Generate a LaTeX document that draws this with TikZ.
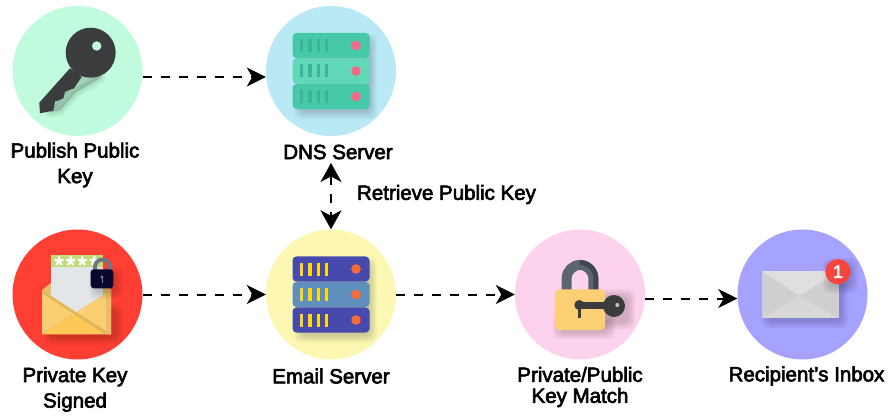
\documentclass[tikz,border=0pt]{standalone}
\usepackage{fontspec}
\setmainfont{Liberation Sans}[FakeBold=3]
\usetikzlibrary{arrows.meta}
\definecolor{keybg}{HTML}{BFFBDC}
\definecolor{dnsbg}{HTML}{B9E9F5}
\definecolor{signbg}{HTML}{FF3F33}
\definecolor{mailbg}{HTML}{FCF8B4}
\definecolor{matchbg}{HTML}{FDD2EC}
\definecolor{inboxbg}{HTML}{A6A2FF}
\definecolor{keydark}{HTML}{3B3C3D}
\definecolor{flapgold}{HTML}{F9CF74}
\definecolor{flapback}{HTML}{E8BE68}
\definecolor{flapfold}{HTML}{E0B65A}
\definecolor{flapfront}{HTML}{FDC857}
\definecolor{paper}{HTML}{E2E6E9}
\definecolor{strip}{HTML}{BFDC7B}
\definecolor{shackle}{HTML}{6F7780}
\definecolor{lockdark}{HTML}{08082E}
\definecolor{padshackle}{HTML}{5B6570}
\definecolor{padshade}{HTML}{3F464E}
\definecolor{padbody}{HTML}{FBCF73}
\definecolor{dnsrow}{HTML}{45C9A7}
\definecolor{dnsmid}{HTML}{61D9B8}
\definecolor{dnsbar}{HTML}{3BB596}
\definecolor{dnslamp}{HTML}{F76A85}
\definecolor{mailrow}{HTML}{4749AD}
\definecolor{mailmid}{HTML}{5E8FBD}
\definecolor{mailbar}{HTML}{FFD80E}
\definecolor{maillamp}{HTML}{F96A35}
\definecolor{envside}{HTML}{CFCFCF}
\definecolor{envflap}{HTML}{DFDFDF}
\definecolor{envlow}{HTML}{D8D8D8}
\definecolor{badgered}{HTML}{F6443E}
% stacked see-through boxes, for a blurred shadow
\newcommand{\softshade}[4]{
  \foreach \g in {0,1.5,...,15}
    \fill[black,opacity=0.014,rounded corners=7pt] (#1-\g/2,#2-\g/2) rectangle (#3+\g/2,#4+\g/2);
}
\tikzset{
  bubble/.style={circle,minimum size=130pt,inner sep=0pt},
  caption/.style={align=center,font=\fontsize{20.5}{25.5}\selectfont,inner sep=0pt,text=black},
  link/.style={line width=2pt,dash pattern=on 9pt off 9pt,-{Stealth[length=19pt,width=19pt,inset=5.5pt]}},
  linkboth/.style={line width=2pt,dash pattern=on 9pt off 9pt,{Stealth[length=19pt,width=21pt,inset=5.5pt]}-{Stealth[length=19pt,width=21pt,inset=5.5pt]}},
  pics/serverstack/.style n args={4}{code={
    % shadow below the rows
    \softshade{-30}{-30}{39}{41}
    % the three rows with bars and lamp
    \foreach \rowy/\rowcol in {-25.5/#1,0/#2,25.5/#1} {
      \fill[\rowcol,rounded corners=4pt] (-38.5,\rowy-12.6) rectangle (38.5,\rowy+12.6);
      \foreach \barx in {-31,-22.7,-14.3,-6}
        \fill[#3] (\barx,\rowy-6.5) rectangle (\barx+3.3,\rowy+6.5);
      \fill[#4] (25,\rowy) circle[radius=4.8];
    }
  }},
}
\begin{document}
\begin{tikzpicture}[x=1pt,y=-1pt]
  \useasboundingbox (0,0) rectangle (892,417);

  % Circles
  \node[bubble,fill=keybg] (publish) at (77.5,71) {};
  \node[bubble,fill=dnsbg] (dns) at (331,71) {};
  \node[bubble,fill=signbg] (signed) at (77.5,294.5) {};
  \node[bubble,fill=mailbg] (email) at (331,294.5) {};
  \node[bubble,fill=matchbg] (match) at (580,294.5) {};
  \node[bubble,fill=inboxbg] (inbox) at (802.5,294.5) {};

  % Key
  \foreach \g in {0,1.5,...,12}
    \draw[black,opacity=0.014,line width=\g pt,fill=black,line join=round]
      (50,112) -- (76,76) -- (100,66) -- (100,78) -- (76,92) -- (60,110) -- cycle;
  \fill[keydark] (70,68.3) -- (81.7,76.7) -- (74,88.3) -- (65,91.7) -- (63.3,98.3) -- (55,101.7)
    -- (53.3,110.7) -- (40,113.3) -- (39.3,102.7) -- cycle;
  \fill[keydark] (90.7,52.7) circle[radius=25];
  \fill[keybg] (96.7,46) circle[radius=4.7];

  % DNS and mail servers
  \pic at (331,71) {serverstack={dnsrow}{dnsmid}{dnsbar}{dnslamp}};
  \pic at (331,294.5) {serverstack={mailrow}{mailmid}{mailbar}{maillamp}};

  % Signed envelope
  \softshade{50}{310}{116}{338}
  \fill[flapback] (42,290) -- (51,283) -- (103,283) -- (111,290) -- (111,300) -- (42,300) -- cycle;
  \fill[paper] (51,255) rectangle (102.7,315);
  \fill[strip] (51,255) rectangle (102.7,266.7);
  \foreach \starx in {59,70.7,82.3,94.3}
    \node[text=white,inner sep=0pt,font=\fontsize{24}{24}\selectfont] (star\starx) at (\starx,265) {*};
  \fill[flapgold] (42,290) -- (76,312.3) -- (42,334.3) -- cycle;
  \fill[flapgold] (111,290) -- (76,312.3) -- (111,334.3) -- cycle;
  \fill[flapback] (106,287) -- (111,290) -- (111,334.3) -- (106,331) -- cycle;
  \fill[flapfront] (42,334.3) -- (76,312.3) -- (111,334.3) -- cycle;
  \fill[flapfold] (42,290) -- (76,312.3) -- (111,334.3) -- (105,334.3) -- (76,315.5) -- (42,293) -- cycle;
  \softshade{96}{274}{116}{292}
  \draw[shackle,line width=4pt] (95,272) -- (95,267) arc[start angle=180,end angle=360,radius=7.5] -- (110,272);
  \fill[lockdark,rounded corners=3pt] (90.7,269.3) rectangle (113.3,288.3);
  \fill[gray] (102,277) circle[radius=1.6];
  \fill[gray] (101.5,277) rectangle (102.5,283);

  % Padlock with key
  \softshade{590}{296}{628}{322}
  \softshade{560}{320}{608}{332}
  \draw[padshackle,line width=10pt] (566.7,295) -- (566.7,278.3) arc[start angle=180,end angle=360,radius=13.3] -- (593.3,295);
  \draw[padshade,line width=5pt] (580,262.5) arc[start angle=270,end angle=360,radius=15.8] -- (595.8,295);
  \fill[padbody,rounded corners=4pt] (555,289.3) rectangle (605,330);
  \fill[keydark] (578,302.3) rectangle (610,309);
  \fill[keydark] (579.3,305) circle[radius=5];
  \fill[keydark] (578,305) rectangle (580.7,318);
  \fill[keydark] (614,306) circle[radius=11];
  \fill[matchbg!70!gray] (617.3,305) circle[radius=2];

  % Inbox envelope
  \softshade{768}{280}{841}{321}
  \fill[envlow] (762,271) rectangle (838.7,318.3);
  \fill[envside] (762,271) -- (799.5,295.7) -- (762,318.3) -- cycle;
  \fill[envside] (838.7,271) -- (799.5,295.7) -- (838.7,318.3) -- cycle;
  \fill[envflap] (762,271) -- (838.7,271) -- (799.5,295.7) -- cycle;
  \softshade{830}{265}{851}{286}
  \node[circle,fill=badgered,minimum size=25.4pt,inner sep=0pt,text=white,font=\fontsize{18}{18}\selectfont] (badge) at (838,271.7) {1};

  % Connectors
  \draw[link] ([yshift=-6pt]publish.east) -- ([yshift=-6pt]dns.west);
  \draw[link] (signed.east) -- (email.west);
  \draw[link] (email.east) -- (match.west);
  \draw[link] ([yshift=-4pt]match.east) -- ([yshift=-4pt]inbox.west);

  % Labels
  \node[caption] (publishtxt) at (75,165) {Publish Public\\Key};
  \node[caption] (dnstxt) at (338,152) {DNS Server};
  \node[caption] (retrieve) at (446.5,194.5) {Retrieve Public Key};
  \node[caption] (signedtxt) at (75,389.5) {Private Key\\Signed};
  \node[caption] (emailtxt) at (331,376) {Email Server};
  \node[caption,font=\fontsize{20.5}{21}\selectfont] (matchtxt) at (580,387) {Private/Public\\Key Match};
  \node[caption] (inboxtxt) at (806.5,376) {Recipient’s Inbox};

  \coordinate (dnslow) at (331,163);
  \draw[linkboth] (dnslow) -- (email.north);
\end{tikzpicture}
\end{document}
